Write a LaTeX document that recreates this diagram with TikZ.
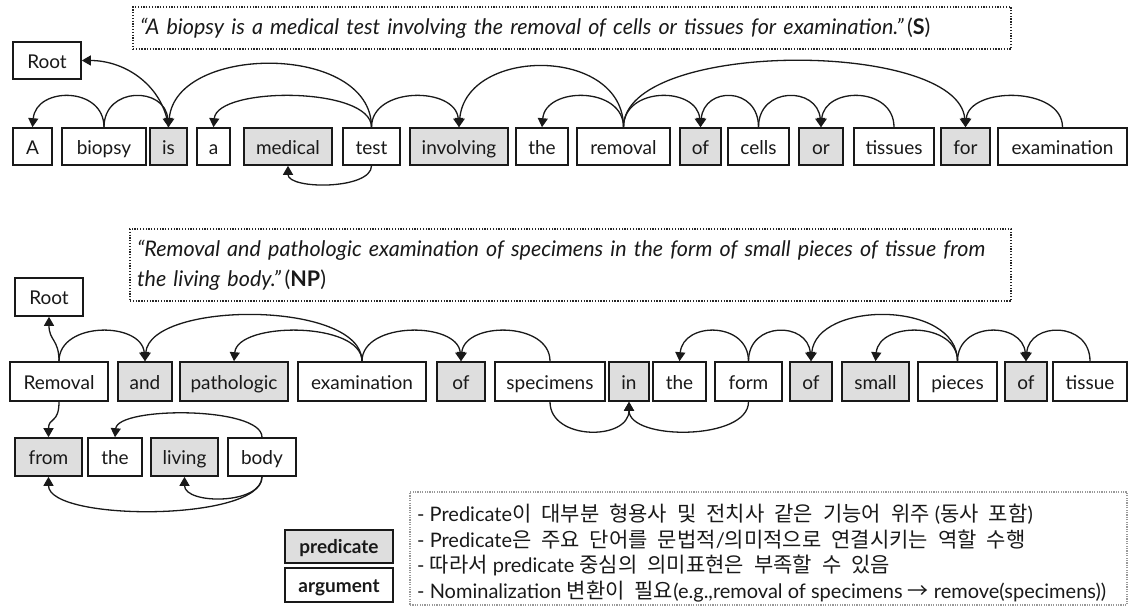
\documentclass[tikz,border=0pt]{standalone}
\usepackage{fontspec}
\setmainfont{Lato}
\newfontfamily\kr{Noto Sans CJK KR}
\usetikzlibrary{arrows.meta}
\newcommand\K[1]{{\kr\fontsize{21}{25.5}\selectfont\spaceskip=10pt\relax #1}}
\newcommand\bx[7]{\node[#1,minimum width={(#4)-(#3)},minimum height={(#6)-(#5)}] (#2) at ({((#3)+(#4))/2},{-((#5)+(#6))/2}) {#7};}
% arc above, target to the left of the source
\newcommand\arcL[3]{\draw[dep] (#1.north) to[out=90,in=85,distance=#3pt] (#2.north);}
% arc above, target to the right of the source
\newcommand\arcR[3]{\draw[dep] (#1.north) to[out=90,in=95,distance=#3pt] (#2.north);}
% arc below
\newcommand\arcdn[3]{\draw[dep] (#1.south) to[out=-90,in=-90,distance=#3pt] (#2.south);}
\begin{document}
\begin{tikzpicture}[x=1pt,y=1pt,
  wordbox/.style={draw=black!90, line width=1.6pt, fill=white, inner sep=0pt,
    font=\fontsize{19}{21}\selectfont, text=black!90, text height=18.5pt, text depth=3pt},
  predbox/.style={wordbox, fill=black!13},
  legbox/.style={wordbox, font=\fontsize{19}{21}\selectfont\bfseries, text height=17pt, text depth=3pt},
  legpred/.style={legbox, fill=black!13},
  dep/.style={line width=1.3pt, draw=black!90, -{Triangle[width=10pt,length=9pt]}},
  quotebox/.style={draw=black!85, line width=1.3pt, dash pattern=on 1.3pt off 1.5pt,
    inner xsep=7pt, inner ysep=0pt, align=left, text=black!90},
  notebox/.style={draw=black!40, line width=1.2pt, dash pattern=on 1.2pt off 1.2pt},
  notetext/.style={align=left, text=black!90, inner sep=0pt, anchor=north west,
    font=\fontsize{20}{25.5}\selectfont}
]
\useasboundingbox (0,0) rectangle (1129,-607);

% ---------- sentence 1 ----------
\node[quotebox, minimum width=878, minimum height=42, text width=864,
  font=\fontsize{21.5}{26}\selectfont] (s-quote) at (572,-28)
  {\itshape ``A biopsy is a medical test involving the removal of cells or tissues for examination.''\,\upshape(\textbf{S})};

\bx{wordbox}{s-root}{13}{81}{42}{79}{Root}
\bx{wordbox}{s-A}{13}{52}{128}{165}{A}
\bx{wordbox}{s-biopsy}{62}{146}{128}{165}{biopsy}
\bx{predbox}{s-is}{150}{187}{128}{165}{is}
\bx{wordbox}{s-a}{197}{230}{128}{165}{a}
\bx{predbox}{s-medical}{244}{332}{128}{165}{medical}
\bx{wordbox}{s-test}{343}{400}{128}{165}{test}
\bx{predbox}{s-involving}{410}{508}{128}{165}{involving}
\bx{wordbox}{s-the}{516}{568}{128}{165}{the}
\bx{wordbox}{s-removal}{577}{670}{128}{165}{removal}
\bx{predbox}{s-of}{680}{721}{128}{165}{of}
\bx{wordbox}{s-cells}{728}{789}{128}{165}{cells}
\bx{predbox}{s-or}{799}{843}{128}{165}{or}
\bx{wordbox}{s-tissues}{854}{934}{128}{165}{tissues}
\bx{predbox}{s-for}{941}{990}{128}{165}{for}
\bx{wordbox}{s-exam}{998}{1127}{128}{165}{examination}

\draw[dep] (s-is.north) .. controls +(-5,40) and +(45,0) .. (s-root.east);
\arcL{s-biopsy}{s-A}{41}
\arcR{s-biopsy}{s-is}{41}
\arcL{s-test}{s-is}{84}
\arcL{s-test}{s-a}{41}
\arcR{s-test}{s-involving}{41}
\arcdn{s-test}{s-medical}{24}
\arcL{s-removal}{s-involving}{81}
\arcL{s-removal}{s-the}{41}
\arcR{s-removal}{s-of}{41}
\arcR{s-removal}{s-for}{88}
\arcL{s-cells}{s-of}{41}
\arcR{s-cells}{s-or}{41}
\arcL{s-tissues}{s-or}{41}
\arcL{s-exam}{s-for}{41}

% ---------- sentence 2 ----------
\node[quotebox, minimum width=881, minimum height=72, text width=867,
  font=\fontsize{21.5}{30}\selectfont] (n-quote) at (570.5,-265)
  {\itshape ``Removal and pathologic examination of specimens in the form of small pieces of tissue from\\
   the living body.''\,\upshape(\textbf{NP})};

\bx{wordbox}{n-root}{15}{83}{278}{316}{Root}
\bx{wordbox}{n-removal}{10}{108}{362}{401}{Removal}
\bx{predbox}{n-and}{118}{172}{362}{401}{and}
\bx{predbox}{n-patho}{180}{288}{362}{401}{pathologic}
\bx{wordbox}{n-exam}{298}{426}{362}{401}{examination}
\bx{predbox}{n-of1}{437}{485}{362}{401}{of}
\bx{wordbox}{n-spec}{495}{605}{362}{401}{specimens}
\bx{predbox}{n-in}{609}{649}{362}{401}{in}
\bx{wordbox}{n-the}{653}{706}{362}{401}{the}
\bx{wordbox}{n-form}{715}{782}{362}{401}{form}
\bx{predbox}{n-of2}{790}{832}{362}{401}{of}
\bx{predbox}{n-small}{842}{909}{362}{401}{small}
\bx{wordbox}{n-pieces}{918}{997}{362}{401}{pieces}
\bx{predbox}{n-of3}{1005}{1047}{362}{401}{of}
\bx{wordbox}{n-tissue}{1053}{1127}{362}{401}{tissue}

\bx{predbox}{n-from}{15}{82}{438}{476}{from}
\bx{wordbox}{n-the2}{88}{142}{438}{476}{the}
\bx{predbox}{n-living}{151}{218}{438}{476}{living}
\bx{wordbox}{n-body}{228}{296}{438}{476}{body}

\draw[dep] (n-removal.north) .. controls +(0,22) and +(0,-24) .. (n-root.south);
\arcR{n-removal}{n-and}{40}
\arcL{n-exam}{n-and}{61}
\arcL{n-exam}{n-patho}{40}
\arcR{n-exam}{n-of1}{40}
\arcL{n-spec}{n-of1}{40}
\arcdn{n-spec}{n-in}{39}
\arcdn{n-form}{n-in}{39}
\arcL{n-form}{n-the}{40}
\arcR{n-form}{n-of2}{40}
\arcL{n-pieces}{n-of2}{61}
\arcL{n-pieces}{n-small}{40}
\arcR{n-pieces}{n-of3}{40}
\arcL{n-tissue}{n-of3}{40}

\draw[dep] (n-removal.south) .. controls +(0,-22) and +(0,20) .. (n-from.north);
\arcL{n-body}{n-the2}{31}
\arcdn{n-body}{n-living}{28}
\arcdn{n-body}{n-from}{45}

% ---------- legend ----------
\bx{legpred}{leg-pred}{285}{393}{530}{563}{predicate}
\bx{legbox}{leg-arg}{285}{393}{568}{602}{argument}

\node[notebox, minimum width=717, minimum height=113] (notes) at (768.5,-548.5) {};
\node[notetext] (notes-text) at (417,-504)
 {- Predicate\K{이 대부분 형용사 및 전치사 같은 기능어 위주} (\K{동사 포함})\\
  - Predicate\K{은 주요 단어를 문법적}/\K{의미적으로 연결시키는 역할 수행}\\
  - \K{따라서} predicate \K{중심의 의미표현은 부족할 수 있음}\\
  - Nominalization \K{변환이 필요}(e.g.,removal of specimens \K{→} remove(specimens))};
\end{tikzpicture}
\end{document}
